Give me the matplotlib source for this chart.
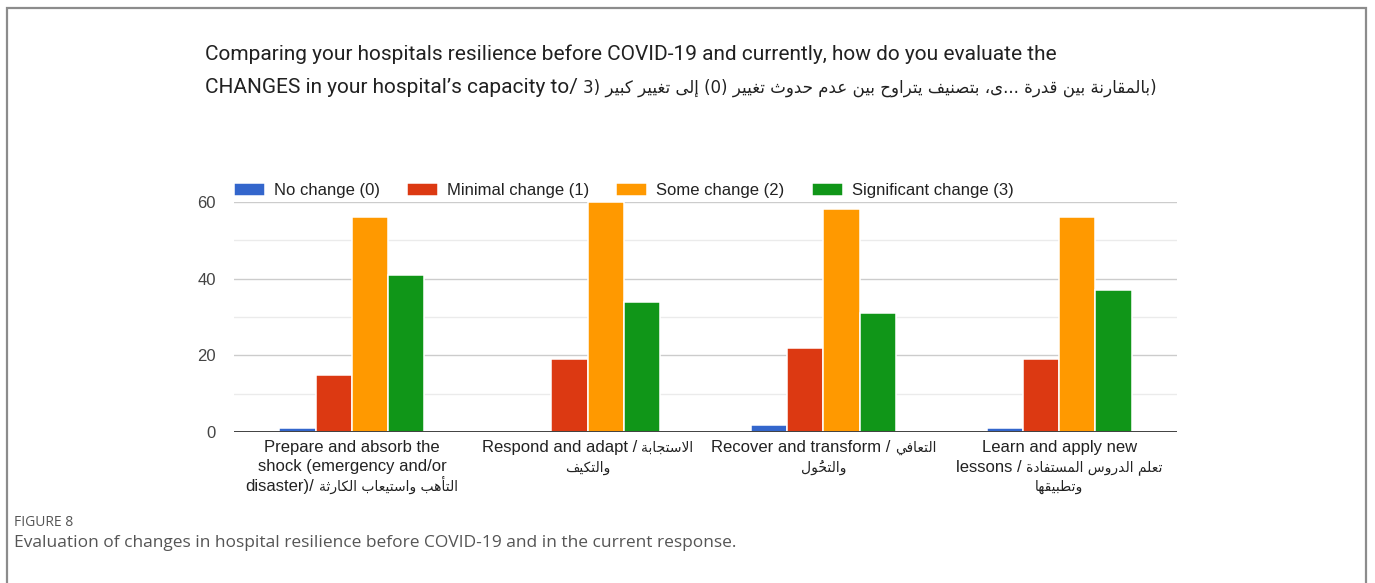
import unicodedata
import numpy as np
import matplotlib
matplotlib.use("Agg")
import matplotlib.pyplot as plt
from matplotlib.patches import Rectangle

# matplotlib has no Arabic shaping, so letters are swapped for their
# presentation forms and each run is laid out right to left
LAM_ALEF = {"ا": "ALEF", "أ": "ALEF WITH HAMZA ABOVE",
            "إ": "ALEF WITH HAMZA BELOW", "آ": "ALEF WITH MADDA ABOVE"}
MIRROR = {"(": ")", ")": "("}


def _form(name, kind):
    try:
        return unicodedata.lookup(f"{name} {kind} FORM")
    except KeyError:
        return None


def ar(text):
    units = []
    for ch in text:
        if unicodedata.combining(ch) and units:
            units[-1][2] += ch
            continue
        if units and units[-1][1] == "ل" and ch in LAM_ALEF and not units[-1][2]:
            units[-1][0] = "ARABIC LIGATURE LAM WITH " + LAM_ALEF[ch]
            units[-1][1] = ch
            continue
        name = unicodedata.name(ch, "")
        units.append([name if name.startswith("ARABIC LETTER") else None, ch, ""])

    out = []
    for i, (name, ch, marks) in enumerate(units):
        if name is None:
            out.append(MIRROR.get(ch, ch) + marks)
            continue
        prev = units[i - 1][0] if i > 0 else None
        nxt = units[i + 1][0] if i + 1 < len(units) else None
        a = prev is not None and _form(prev, "INITIAL") and _form(name, "FINAL")
        b = nxt is not None and _form(name, "INITIAL") and _form(nxt, "FINAL")
        kind = "MEDIAL" if a and b else "FINAL" if a else "INITIAL" if b else "ISOLATED"
        out.append((_form(name, kind) or ch) + marks)
    return "".join(reversed(out))


# data
series = ["No change (0)", "Minimal change (1)", "Some change (2)", "Significant change (3)"]
colors = ["#3366cc", "#dc3912", "#ff9900", "#109618"]
no_change = [1, 0, 2, 1]
minimal_change = [15, 19, 22, 19]
some_change = [56, 60, 58, 56]
significant_change = [41, 34, 31, 37]

cat_en = ["Prepare and absorb the\nshock (emergency and/or\ndisaster)/",
          "Respond and adapt /",
          "Recover and transform /",
          "Learn and apply new\nlessons /"]
cat_ar = [["التأهب واستيعاب الكارثة"],
          ["الاستجابة", "والتكيف"],
          ["التعافي", "والتحوُل"],
          ["تعلم الدروس المستفادة", "وتطبيقها"]]

title_1 = "Comparing your hospitals resilience before COVID-19 and currently, how do you evaluate the"
title_2 = "CHANGES in your hospital’s capacity to/"
title_ar = "(بالمقارنة بين قدرة ...ى، بتصنيف يتراوح بين عدم حدوث تغيير (0) إلى تغيير كبير (3"
fig_label = "FIGURE 8"
caption = "Evaluation of changes in hospital resilience before COVID-19 and in the current response."
y_ticks = [0, 20, 40, 60]

plt.rcParams["font.family"] = ["Liberation Sans", "DejaVu Sans"]

W, H = 1375, 583
fig = plt.figure(figsize=(W / 100, H / 100), dpi=100)
renderer = fig.canvas.get_renderer()
ax = fig.add_axes([234 / W, 1 - 432.3 / H, 943 / W, 230.6 / H])

x = np.arange(len(cat_en))
w = 0.154
values = [no_change, minimal_change, some_change, significant_change]
for i, (vals, name, c) in enumerate(zip(values, series, colors)):
    ax.bar(x + (i - 1.5) * w, vals, w, color=c, edgecolor="white",
           linewidth=1.1, label=name, zorder=3)

ax.set_xlim(-0.5, len(cat_en) - 0.5)
ax.set_ylim(0, 60)
ax.set_yticks(y_ticks)
ax.set_yticks([10, 30, 50], minor=True)
ax.grid(which="major", axis="y", color="#cccccc", lw=1)
ax.grid(which="minor", axis="y", color="#ebebeb", lw=1)
ax.set_axisbelow(True)
ax.axhline(0, color="#333333", lw=1.3, zorder=4)
for s in ax.spines.values():
    s.set_visible(False)

ax.tick_params(axis="y", which="both", length=0, pad=13, labelsize=12, labelcolor="#444444")
ax.set_xticks(x, [""] * len(x))
ax.tick_params(axis="x", length=0)

leg = ax.legend(loc="center left", bbox_to_anchor=(0, 1.0486), ncol=4, frameon=False,
                fontsize=12, handlelength=1.86, handleheight=0.9, handletextpad=0.54,
                columnspacing=1.62, borderpad=0, borderaxespad=0)
for t in leg.get_texts():
    t.set_color("#222222")


def put_line(xp, yp, parts, color, center=False, gap=4.6):
    # parts are (text, size, family) set side by side on one baseline, pixel coords
    texts, widths = [], []
    for s, size, fam in parts:
        t = fig.text(0, 0, s, fontsize=size, fontfamily=fam, color=color, va="baseline")
        texts.append(t)
        widths.append(t.get_window_extent(renderer).width)
    total = sum(widths) + gap * (len(parts) - 1)
    left = xp - total / 2 if center else xp
    for t, wd in zip(texts, widths):
        t.set_position((left / W, 1 - yp / H))
        left += wd + gap


LAT = ["Liberation Sans"]
ARB = ["DejaVu Sans"]
ROB = ["Roboto", "DejaVu Sans"]

# category labels: English lines, then the Arabic text after the last one
for xi, en, parts in zip(x, cat_en, cat_ar):
    lines = [[(s, 12, LAT)] for s in en.split("\n")]
    lines[-1].append((ar(parts[0]), 10, ARB))
    lines += [[(ar(p), 10, ARB)] for p in parts[1:]]
    cx = ax.transData.transform((xi, 0))[0]
    for k, line in enumerate(lines):
        put_line(cx, 452 + 19.5 * k, line, "#222222", center=True)

# question text above the chart
put_line(205, 60, [(title_1, 15, ROB)], "#212121")
put_line(205, 93, [(title_2, 15, ROB), (ar(title_ar), 12, ARB)], "#212121", gap=5.2)

fig.text(14 / W, 1 - 522 / H, fig_label, fontfamily=["Open Sans", "DejaVu Sans"],
         fontsize=10, color="#555555", va="center")
fig.text(14 / W, 1 - 543 / H, caption, fontfamily=["Open Sans", "DejaVu Sans"],
         fontsize=12.5, color="#555555", va="center")

fig.add_artist(Rectangle((7 / W, -0.05), (1366 - 7) / W, (H - 8) / H + 0.05,
                         transform=fig.transFigure, fill=False, ec="#8c8c8c", lw=1.6))

fig.savefig("out.png", dpi=100)
